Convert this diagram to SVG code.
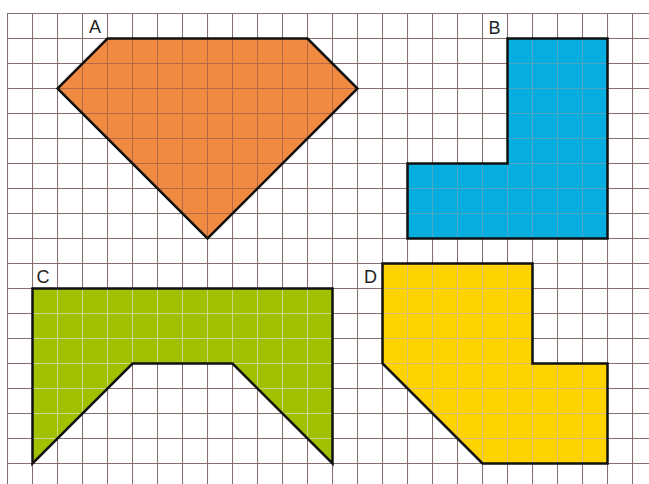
<svg xmlns="http://www.w3.org/2000/svg" width="649" height="484" viewBox="0 0 649 484">
<style>
.lbl{font-family:"Liberation Sans",Arial,sans-serif;font-size:18px;fill:#222;text-anchor:middle}
.shape{stroke:#111;stroke-width:2.5;stroke-linejoin:miter}
</style>
<defs>
<pattern id="grid" patternUnits="userSpaceOnUse" x="7" y="13" width="25" height="25">
<path d="M0 0.5H25M0.5 0V25" fill="none" stroke="#85706e" stroke-width="1.1"/>
</pattern>
<pattern id="pA" patternUnits="userSpaceOnUse" x="7" y="13" width="25" height="25">
<rect width="25" height="25" fill="#f08a40"/>
<path d="M0 0.5H25M0.5 0V25" fill="none" stroke="#b4684a" stroke-width="1"/>
</pattern>
<pattern id="pB" patternUnits="userSpaceOnUse" x="7" y="13" width="25" height="25">
<rect width="25" height="25" fill="#06aee0"/>
<path d="M0 0.5H25M0.5 0V25" fill="none" stroke="#4ea6c4" stroke-width="1"/>
</pattern>
<pattern id="pC" patternUnits="userSpaceOnUse" x="7" y="13" width="25" height="25">
<rect width="25" height="25" fill="#a2c000"/>
<path d="M0 0.5H25M0.5 0V25" fill="none" stroke="#c4dc8a" stroke-width="1"/>
</pattern>
<pattern id="pD" patternUnits="userSpaceOnUse" x="7" y="13" width="25" height="25">
<rect width="25" height="25" fill="#ffd300"/>
<path d="M0 0.5H25M0.5 0V25" fill="none" stroke="#d8c070" stroke-width="1"/>
</pattern>
</defs>
<rect width="649" height="484" fill="#fff"/>
<rect x="7" y="13" width="642" height="471" fill="url(#grid)"/>
<g id="A">
<polygon class="shape" fill="url(#pA)" points="107.5,38.5 307.5,38.5 357.5,88.5 207.5,238.5 57.5,88.5"/>
<text class="lbl" x="95" y="33">A</text>
</g>
<g id="B">
<polygon class="shape" fill="url(#pB)" points="507.5,38.5 607.5,38.5 607.5,238.5 407.5,238.5 407.5,163.5 507.5,163.5"/>
<text class="lbl" x="494.5" y="34">B</text>
</g>
<g id="C">
<polygon class="shape" fill="url(#pC)" points="32.5,288.5 332.5,288.5 332.5,463.5 232.5,363.5 132.5,363.5 32.5,463.5"/>
<text class="lbl" x="43" y="283">C</text>
</g>
<g id="D">
<polygon class="shape" fill="url(#pD)" points="382.5,263.5 532.5,263.5 532.5,363.5 607.5,363.5 607.5,463.5 482.5,463.5 382.5,363.5"/>
<text class="lbl" x="370.5" y="283">D</text>
</g>
</svg>
